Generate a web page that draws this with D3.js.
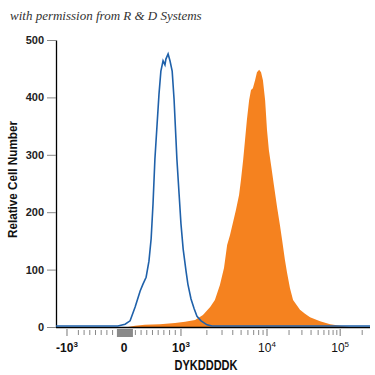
<!DOCTYPE html>
<html>
<head>
<meta charset="utf-8">
<script src="https://cdn.jsdelivr.net/npm/d3@7"></script>
<style>
  body { margin: 0; background: #fff; }
  text { font-family: "Liberation Sans", Arial, sans-serif; }
</style>
</head>
<body>
<div id="plot"></div>
<script>
// Histogram data, channel (0-1000) vs cell count
const isotypeChannel = [0, 197, 220, 236, 252, 268, 277, 287, 296, 303, 309, 315, 322, 328, 334, 341, 347, 350, 357, 363, 370, 376, 382, 385, 392, 398, 405, 414, 420, 430, 440, 449, 462, 481, 497, 1000];
const isotypeCount   = [0, 0, 3, 9, 33, 61, 73, 85, 113, 152, 213, 291, 352, 404, 444, 462, 455, 465, 474, 462, 444, 395, 326, 291, 230, 178, 134, 96, 73, 47, 30, 17, 9, 2, 0, 0];

const stainedChannel = [229, 252, 283, 331, 379, 411, 443, 468, 491, 506, 522, 535, 545, 554, 564, 573, 583, 589, 596, 602, 608, 615, 621, 627, 634, 640, 647, 653, 659, 666, 672, 678, 685, 694, 704, 713, 720, 729, 736, 745, 755, 768, 777, 793, 809, 841, 873, 905, 936];
const stainedCount   = [0, 2, 4, 5, 7, 9, 12, 21, 35, 47, 73, 103, 143, 160, 183, 204, 230, 256, 291, 326, 361, 395, 413, 416, 430, 444, 448, 444, 430, 395, 343, 308, 282, 247, 209, 178, 152, 117, 94, 68, 47, 37, 30, 23, 17, 10, 5, 2, 0];

// axis calibration (value -> channel)
const decadeValues   = [-1000, 0, 1000, 10000, 100000];
const decadeChannels = [35, 217, 398, 672, 905];
const tickBase = ["-10", "0", "10", "10", "10"];
const tickExp  = ["3", "", "3", "4", "5"];
const minorLinear = [-800, -700, -600, -500, -400, -300, -200, -100, 100, 200, 300, 400, 500, 600, 700, 800, 900];
const minorLog = [2000, 3000, 4000, 5000, 6000, 7000, 8000, 9000,
                  20000, 30000, 40000, 50000, 60000, 70000, 80000, 90000, 200000];
const yTicks = [0, 100, 200, 300, 400, 500];
const zeroBox = [194, 245]; // grey bins piled at zero

function toChannel(v) {
  if (v <= 1000) return d3.scaleLinear().domain([-1000, 1000]).range([decadeChannels[0], decadeChannels[2]])(v);
  const d = Math.log10(v);
  const lo = Math.min(Math.floor(d), 4);
  const c0 = decadeChannels[lo - 1], c1 = decadeChannels[lo];
  return c0 + (c1 - c0) * (d - lo);
}

const margin = { top: 40, right: 5, bottom: 48, left: 56 },
  width = 375 - margin.left - margin.right,
  height = 375 - margin.top - margin.bottom;

const svg = d3.select("#plot")
  .append("svg")
    .attr("width", width + margin.left + margin.right)
    .attr("height", height + margin.top + margin.bottom);

// watermark
svg.append("text")
  .attr("x", 10).attr("y", 20)
  .style("font-family", "'Liberation Serif', 'DejaVu Serif', serif")
  .style("font-style", "italic")
  .style("font-size", "13px")
  .attr("fill", "#333")
  .text("with permission from R & D Systems");

const g = svg.append("g")
  .attr("transform", `translate(${margin.left},${margin.top})`);

const x = d3.scaleLinear().domain([0, 1000]).range([0, width]);
const y = d3.scaleLinear().domain([0, 500]).range([height, 0]);

// stained histogram (filled)
const stained = stainedChannel.map((c, i) => ({ c, n: stainedCount[i] }));
g.append("path")
  .datum(stained)
  .attr("fill", "#f5821f")
  .attr("d", d3.area().x(d => x(d.c)).y0(y(0)).y1(d => y(d.n)));

// y axis
const yAxis = g.append("g")
  .call(d3.axisLeft(y).tickValues(yTicks).tickSize(9).tickSizeOuter(0).tickPadding(3));
yAxis.select(".domain").attr("stroke", "#000").attr("stroke-width", 1.3);
yAxis.selectAll(".tick line").attr("stroke", "#888");
yAxis.selectAll(".tick text")
  .style("font-size", "11px").style("font-weight", "bold").attr("fill", "#222");

// x axis line
g.append("line")
  .attr("x1", 0).attr("x2", width)
  .attr("y1", y(0) + 0.5).attr("y2", y(0) + 0.5)
  .attr("stroke", "#000").attr("stroke-width", 1.5);

// minor ticks
const minorTicks = minorLinear.concat(minorLog);
g.selectAll(".minor")
  .data(minorTicks)
  .enter().append("line")
    .attr("class", "minor")
    .attr("x1", d => x(toChannel(d))).attr("x2", d => x(toChannel(d)))
    .attr("y1", height + 3).attr("y2", height + 8)
    .attr("stroke", "#888").attr("stroke-width", 1);

g.selectAll(".major")
  .data(decadeValues)
  .enter().append("line")
    .attr("class", "major")
    .attr("x1", d => x(toChannel(d))).attr("x2", d => x(toChannel(d)))
    .attr("y1", height + 2).attr("y2", height + 9)
    .attr("stroke", "#777").attr("stroke-width", 1);

// grey zero bins
g.append("rect")
  .attr("x", x(zeroBox[0])).attr("width", x(zeroBox[1]) - x(zeroBox[0]))
  .attr("y", height + 2).attr("height", 8)
  .attr("fill", "#8a8a8a");

// x tick labels
const labels = g.selectAll(".xlab")
  .data(decadeValues)
  .enter().append("text")
    .attr("class", "xlab")
    .attr("x", d => x(toChannel(d)))
    .attr("y", height + 25)
    .attr("text-anchor", "middle")
    .attr("fill", "#111")
    .style("font-size", "12px")
    .style("font-weight", (d, i) => i < 3 ? "bold" : "normal");
labels.append("tspan").text((d, i) => tickBase[i]);
labels.append("tspan")
  .attr("dy", -5)
  .style("font-size", "8px")
  .text((d, i) => tickExp[i]);

// isotype histogram (outline)
const isotype = isotypeChannel.map((c, i) => ({ c, n: isotypeCount[i] }));
g.append("path")
  .datum(isotype)
  .attr("fill", "none")
  .attr("stroke", "#1f61aa")
  .attr("stroke-width", 1.6)
  .attr("d", d3.line().x(d => x(d.c)).y(d => y(d.n) - 1));

// axis titles
svg.append("text")
  .attr("transform", `translate(17,${margin.top + height / 2 - 4}) rotate(-90)`)
  .attr("text-anchor", "middle")
  .attr("textLength", 117).attr("lengthAdjust", "spacingAndGlyphs")
  .style("font-size", "13px").style("font-weight", "bold")
  .attr("fill", "#111")
  .text("Relative Cell Number");

svg.append("text")
  .attr("x", 206).attr("y", 370)
  .attr("text-anchor", "middle")
  .attr("textLength", 63).attr("lengthAdjust", "spacingAndGlyphs")
  .style("font-size", "14px").style("font-weight", "bold")
  .attr("fill", "#111")
  .text("DYKDDDDK");
</script>
</body>
</html>
